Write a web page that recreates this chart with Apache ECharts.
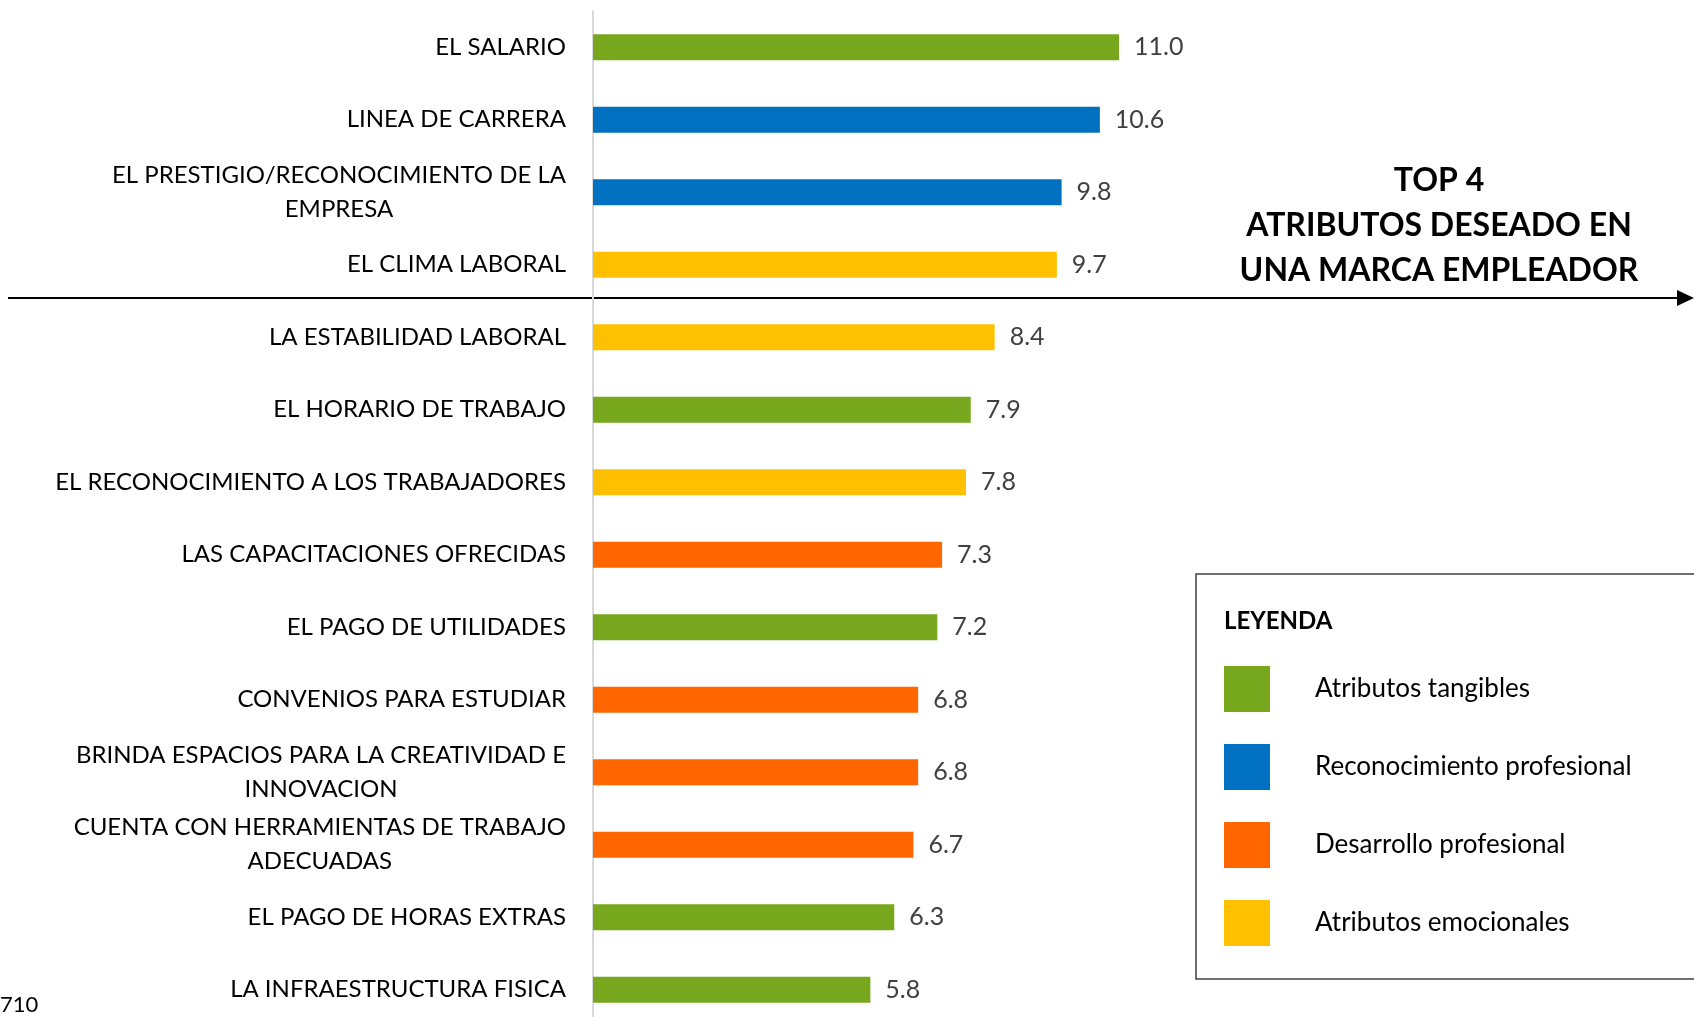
<!DOCTYPE html>
<html>
<head>
<meta charset="utf-8">
<script src="https://cdn.jsdelivr.net/npm/echarts@6/dist/echarts.min.js"></script>
<style>
html,body{margin:0;padding:0;background:#fff;}
#chart{width:1694px;height:1017px;}
</style>
</head>
<body>
<div id="chart"></div>
<script>
// ---- data ----
const categories = [
  "EL SALARIO",
  "LINEA DE CARRERA",
  "EL PRESTIGIO/RECONOCIMIENTO DE LA\nEMPRESA",
  "EL CLIMA LABORAL",
  "LA ESTABILIDAD LABORAL",
  "EL HORARIO DE TRABAJO",
  "EL RECONOCIMIENTO A LOS TRABAJADORES",
  "LAS CAPACITACIONES OFRECIDAS",
  "EL PAGO DE UTILIDADES",
  "CONVENIOS PARA ESTUDIAR",
  "BRINDA ESPACIOS PARA LA CREATIVIDAD E\nINNOVACION",
  "CUENTA CON HERRAMIENTAS DE TRABAJO\nADECUADAS",
  "EL PAGO DE HORAS EXTRAS",
  "LA INFRAESTRUCTURA FISICA"
];
const values = [11.0, 10.6, 9.8, 9.7, 8.4, 7.9, 7.8, 7.3, 7.2, 6.8, 6.8, 6.7, 6.3, 5.8];
// group index per category: 0 tangibles, 1 reconocimiento, 2 desarrollo, 3 emocionales
const groups = [0, 1, 1, 3, 3, 0, 3, 2, 0, 2, 2, 2, 0, 0];
const groupNames = ["Atributos tangibles", "Reconocimiento profesional", "Desarrollo profesional", "Atributos emocionales"];
const groupColors = ["#76A71C", "#0070C0", "#FF6600", "#FFC000"];
const titleLines = ["TOP 4", "ATRIBUTOS DESEADO EN", "UNA MARCA EMPLEADOR"];
const legendTitle = "LEYENDA";
const footNote = "710";

const FONT = "Lato";

const series = groupNames.map((name, g) => ({
  name: name,
  type: "bar",
  stack: "all",
  barWidth: 26,
  itemStyle: { color: groupColors[g] },
  label: {
    show: true,
    position: "right",
    distance: 15,
    fontSize: 25,
    fontFamily: FONT,
    color: "#404040",
    formatter: p => Number(p.value).toFixed(1)
  },
  data: values.map((v, i) => groups[i] === g ? v : "-")
}));

const chart = echarts.init(document.getElementById("chart"), null, { renderer: "canvas" });
chart.setOption({
  backgroundColor: "#ffffff",
  animation: false,
  grid: { left: 593, top: 11, right: 49, bottom: -9, containLabel: false, outerBoundsMode: "none" },
  xAxis: { type: "value", min: 0, max: 22, show: false },
  yAxis: {
    type: "category",
    inverse: true,
    data: categories,
    axisLine: { show: true, lineStyle: { color: "#d9d9d9", width: 2 } },
    axisTick: { show: false },
    splitLine: { show: false },
    axisLabel: {
      interval: 0,
      margin: 27,
      fontSize: 24,
      fontFamily: FONT,
      color: "#000",
      lineHeight: 34,
      formatter: v => v.split("\n").map(s => "{c|" + s + "}").join("\n"),
      rich: { c: { align: "center", fontSize: 24, fontFamily: FONT, color: "#000", lineHeight: 34 } }
    }
  },
  legend: {
    orient: "vertical",
    left: 1224,
    top: 666,
    padding: 0,
    itemWidth: 46,
    itemHeight: 46,
    itemGap: 32,
    icon: "rect",
    selectedMode: false,
    data: groupNames,
    textStyle: { fontSize: 26, fontFamily: FONT, color: "#000", padding: [0, 0, 0, 40] }
  },
  series: series,
  graphic: [
    { type: "line", shape: { x1: 8, y1: 298, x2: 1680, y2: 298 }, style: { stroke: "#000", lineWidth: 2 } },
    { type: "polygon", shape: { points: [[1677, 290], [1694, 298], [1677, 306]] }, style: { fill: "#000" } },
    { type: "text", x: 1439, y: 226, style: { text: titleLines.join("\n"), textAlign: "center", textVerticalAlign: "middle", fontSize: 32, fontWeight: "bold", fontFamily: FONT, lineHeight: 45, fill: "#000" } },
    { type: "rect", shape: { x: 1196, y: 574, width: 600, height: 405 }, style: { fill: "none", stroke: "#404040", lineWidth: 1.5 } },
    { type: "text", x: 1224, y: 621, style: { text: legendTitle, textVerticalAlign: "middle", fontSize: 24, fontWeight: "bold", fontFamily: FONT, fill: "#000" } },
    { type: "text", x: 0, y: 1005, style: { text: footNote, textVerticalAlign: "middle", fontSize: 22, fontFamily: FONT, fill: "#000" } }
  ]
});
</script>
</body>
</html>
